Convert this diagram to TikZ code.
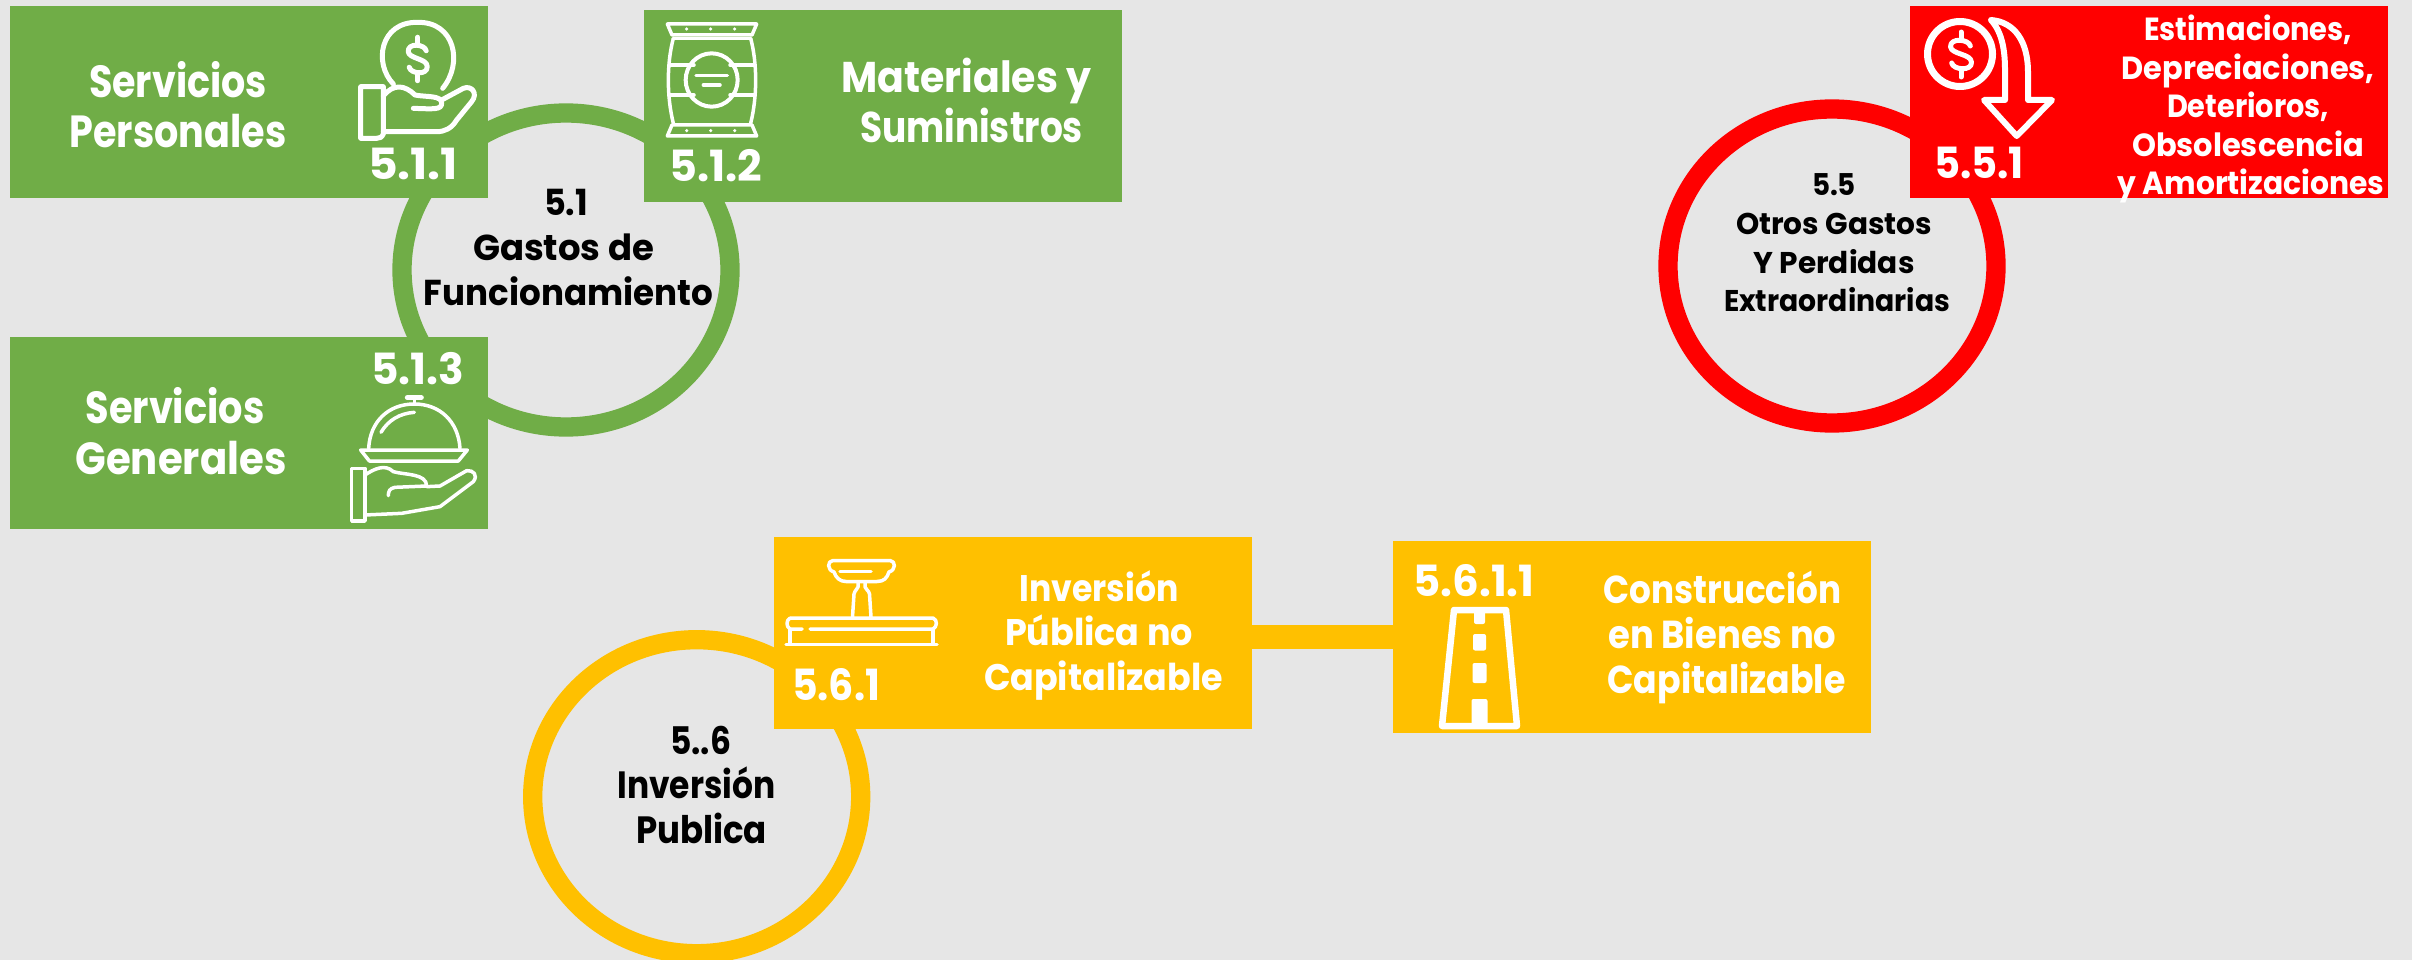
\documentclass[tikz,border=0pt]{standalone}
\usepackage{fontspec}
\usepackage{graphicx}
\setmainfont{Poppins}
\usetikzlibrary{shapes.geometric}
\definecolor{bgc}{HTML}{E6E6E6}
\definecolor{grn}{HTML}{70AD47}
\definecolor{rd}{HTML}{FF0000}
\definecolor{yl}{HTML}{FFC000}
% one line of a label: target width, horizontal nudge, text
\newcommand\lab[3]{\hspace*{#2pt}\resizebox{#1pt}{\height}{#3}}
\newcommand\dsign[4]{%
  \begin{scope}[shift={(#1,#2)},xscale=#3,yscale=#4]
    \draw[icon] (0.85,-0.55) .. controls (0.7,-1) and (-1,-1.1) .. (-0.95,-0.5)
      .. controls (-0.9,0) and (0.95,-0.05) .. (0.95,0.5)
      .. controls (1,1.1) and (-0.7,1) .. (-0.85,0.55);
    \draw[icon] (0,-0.95) -- (0,-1.45);
    \draw[icon] (0,0.95) -- (0,1.45);
  \end{scope}}
\tikzset{
  box/.style={anchor=north west,inner sep=0pt,outer sep=0pt,minimum width=478pt,minimum height=192pt},
  ring/.style={ellipse,draw,fill=none,line width=19.3pt,inner sep=0pt,outer sep=0pt,minimum width=328pt,minimum height=314pt},
  txt/.style={anchor=base,align=center,inner sep=0pt,outer sep=0pt},
  icon/.style={draw=white,line width=5pt,line cap=round,line join=round,fill=none},
  thin icon/.style={icon,line width=3.5pt},
}
\begin{document}
\begin{tikzpicture}[x=1pt,y=-1pt]
\fill[bgc] (0,0) rectangle (2412,960);
\useasboundingbox (0,0) rectangle (2412,960);
\clip (0,0) rectangle (2412,960);

% rings
\node[ring,draw=grn] (c51) at (566,270) {};
\node[ring,draw=rd] (c55) at (1832,266) {};
\node[ring,draw=yl] (c56) at (696.7,796.7) {};

% boxes
\node[box,fill=grn] (b511) at (10,6) {};
\node[box,fill=grn] (b512) at (644,10) {};
\node[box,fill=grn] (b513) at (10,337) {};
\node[box,fill=rd] (b551) at (1910,6) {};
\node[box,fill=yl] (b561) at (774,537) {};
\node[box,fill=yl] (b5611) at (1393,541) {};
\draw[yl,line width=24pt] (b561.east |- b5611.west) -- (b5611.west);

% ring labels (anchored on the baseline of their last line)
\node[txt,font=\bfseries\fontsize{36}{45}\selectfont] (t51) at (566,305)
  {\lab{44}{0}{5.1}\\\lab{181}{-5}{Gastos de}\\\lab{289}{5}{Funcionamiento}};
\node[txt,font=\bfseries\fontsize{30}{38.6}\selectfont] (t55) at (1834,311.7)
  {\lab{44}{0}{5.5}\\\lab{196}{0}{Otros Gastos}\\\lab{161}{0}{Y Perdidas}\\\lab{226}{6}{Extraordinarias}};
\node[txt,font=\bfseries\fontsize{38}{44.5}\selectfont] (t56) at (699,843)
  {\lab{61}{3}{5..6}\\\lab{158}{-5}{Inversión}\\\lab{131}{5}{Publica}};

% box labels
\node[txt,text=white,font=\bfseries\fontsize{45}{50.5}\selectfont] (t511) at (178,148)
  {\lab{178}{0}{Servicios}\\\lab{217}{0}{Personales}};
\node[txt,text=white,font=\bfseries\fontsize{43}{50.5}\selectfont] (t512) at (969,143)
  {\lab{250}{-5}{Materiales y}\\\lab{223}{5}{Suministros}};
\node[txt,text=white,font=\bfseries\fontsize{45}{51}\selectfont] (t513) at (178,474.5)
  {\lab{179}{-6}{Servicios}\\\lab{211}{6}{Generales}};
\node[txt,text=white,font=\bfseries\fontsize{32}{38.6}\selectfont] (t551) at (2248,195)
  {\lab{208}{0}{Estimaciones,}\\\lab{253}{0}{Depreciaciones,}\\\lab{162}{0}{Deterioros,}\\\lab{232}{0}{Obsolescencia}\\\lab{267}{6}{y Amortizaciones}};
\node[txt,text=white,font=\bfseries\fontsize{37}{44.5}\selectfont] (t561) at (1101,690)
  {\lab{159}{-4}{Inversión}\\\lab{188}{-4}{Pública no}\\\lab{239}{5}{Capitalizable}};
\node[txt,text=white,font=\bfseries\fontsize{39}{45}\selectfont] (t5611) at (1724,693)
  {\lab{238}{-3}{Construcción}\\\lab{228}{-3}{en Bienes no}\\\lab{238}{5}{Capitalizable}};

% codes
\tikzset{code/.style={txt,text=white,font=\bfseries\fontsize{43}{43}\selectfont}}
\node[code] (n511) at (413,180) {\lab{90}{0}{5.1.1}};
\node[code] (n512) at (716,181.7) {\lab{93}{0}{5.1.2}};
\node[code] (n513) at (417.5,384) {\lab{93}{0}{5.1.3}};
\node[code] (n551) at (1979,178.3) {\lab{90}{0}{5.5.1}};
\node[code] (n561) at (836,700.7) {\lab{88}{0}{5.6.1}};
\node[code] (n5611) at (1474,596) {\lab{121}{0}{5.6.1.1}};

% hand with coin
\begin{scope}[shift={(330,10)},scale=1/3]
  \draw[icon] (190,222) .. controls (130,160) and (150,35) .. (263,37) .. controls (375,35) and (400,160) .. (338,235);
  \draw[icon] (92,230) -- (160,230) -- (160,372) .. controls (155,382) and (150,385) .. (140,385) -- (92,385) -- cycle;
  \draw[icon] (160,258) .. controls (190,220) and (225,225) .. (255,255) .. controls (290,262) and (335,255) .. (335,280)
     .. controls (335,300) and (310,297) .. (250,295);
  \draw[icon] (335,270) -- (400,235) .. controls (425,225) and (445,250) .. (425,275)
     -- (380,330) .. controls (365,355) and (345,365) .. (320,365) -- (160,365);
\end{scope}
\dsign{417.7}{59}{10}{15}

% bag
\begin{scope}[shift={(620,0)},scale=1/3]
  \draw[thin icon] (142,72) -- (410,72) -- (396,105) -- (156,105) -- cycle;
  \draw[thin icon] (156,375) -- (396,375) -- (410,408) -- (142,408) -- cycle;
  \draw[thin icon,dash pattern=on 0pt off 24pt] (200,87) -- (355,87);
  \draw[thin icon,dash pattern=on 0pt off 24pt] (200,392) -- (355,392);
  \draw[thin icon] (160,115) -- (392,115);
  \draw[thin icon] (160,115) .. controls (140,190) and (140,290) .. (160,370);
  \draw[thin icon] (392,115) .. controls (412,190) and (412,290) .. (392,370);
  \draw[icon,line width=4pt] (275,240) ellipse[x radius=78,y radius=80];
  \draw[thin icon] (228,226) -- (322,226);
  \draw[thin icon] (250,255) -- (300,255);
  \draw[thin icon] (150,195) -- (222,195);
  \draw[thin icon] (330,195) -- (402,195);
  \draw[thin icon] (150,285) -- (222,285);
  \draw[thin icon] (330,285) -- (402,285);
\end{scope}

% cloche
\begin{scope}[shift={(330,380)},scale=1/3]
  \draw[icon] (232,53) -- (274,53);
  \draw[thin icon] (253,55) -- (253,72);
  \draw[thin icon] (116,205) .. controls (120,125) and (175,72) .. (253,72) .. controls (330,72) and (385,125) .. (390,205);
  \draw[thin icon] (153,157) .. controls (175,120) and (210,100) .. (253,97);
  \draw[thin icon] (92,210) -- (412,210) -- (385,243) -- (118,243) -- cycle;
  \draw[thin icon] (65,265) rectangle (105,423);
  \draw[thin icon] (105,285) .. controls (130,268) and (165,250) .. (190,275)
     .. controls (225,285) and (290,280) .. (290,318) -- (195,322) .. controls (178,325) and (175,335) .. (175,347);
  \draw[thin icon] (290,320) -- (330,318) -- (410,272) .. controls (430,270) and (445,285) .. (430,305)
     -- (330,380) -- (215,400) -- (105,405);
\end{scope}

% coin and falling arrow
\draw[icon,line width=7pt] (1960,54) circle[radius=32.5];
\dsign{1961}{54.5}{11}{15.5}
\draw[icon,line width=6pt] (1991,20) .. controls (2015,22) and (2028,42) .. (2028,72) -- (2028,100) -- (2052,100)
   -- (2016.7,136) -- (1984,100) -- (2005,100) -- (2005,70) .. controls (2005,50) and (2002,32) .. (1991,20);

% pedestal
\draw[thin icon] (833,560.5) -- (890,560.5) .. controls (896,561) and (896,570) .. (889,572) .. controls (887,578) and (884,581.5) .. (877,581.5)
  -- (846,581.5) .. controls (840,581.5) and (836,578) .. (834,572) .. controls (827,570) and (827,561) .. (833,560.5);
\draw[thin icon] (840,571.5) -- (871,571.5);
\draw[thin icon] (852.5,617) -- (854,594) .. controls (855,590) and (857,590) .. (858,587) -- (858,582);
\draw[thin icon] (871,617) -- (869.5,594) .. controls (868.5,590) and (866,590) .. (865,587) -- (865,582);
\draw[thin icon] (790,618) -- (933,618) .. controls (938,620) and (937,627) .. (933,629) -- (810,629);
\draw[thin icon] (790,618) .. controls (786,620) and (786,627) .. (790,629) -- (802,629);
\draw[thin icon] (790,629) -- (790,644);
\draw[thin icon] (933,629) -- (933,644);
\draw[thin icon] (786,644.5) -- (937,644.5);

% road
\draw[icon,line width=6.5pt] (1454,610) -- (1506,610) -- (1517,726) -- (1442,726) -- cycle;
\fill[white,rounded corners=2pt] (1474,609) rectangle (1485,624);
\fill[white,rounded corners=2pt] (1473,634) rectangle (1486,650.5);
\fill[white,rounded corners=2pt] (1472.5,663) rectangle (1486.5,683);
\fill[white,rounded corners=2pt] (1471.5,699) rectangle (1487.5,728);
\end{tikzpicture}
\end{document}
